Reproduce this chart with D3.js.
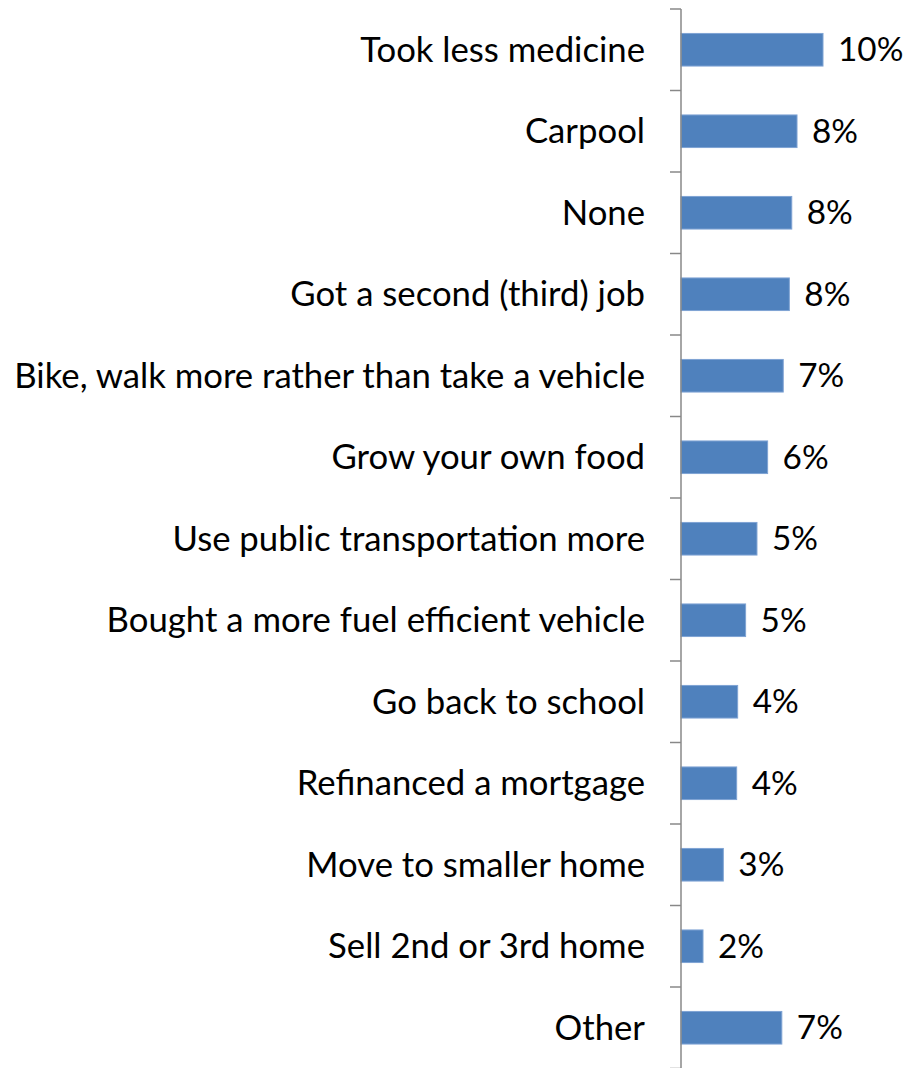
<!DOCTYPE html>
<html>
<head>
<meta charset="utf-8">
<script src="https://cdn.jsdelivr.net/npm/d3@7"></script>
<style>
	body { margin: 0; background: #fff; }
	text { font-family: Lato, "Open Sans", sans-serif; fill: #000; }
</style>
</head>
<body>
<div id="chart"></div>
<script>
// categories, top to bottom
var categories = [
	"Took less medicine",
	"Carpool",
	"None",
	"Got a second (third) job",
	"Bike, walk more rather than take a vehicle",
	"Grow your own food",
	"Use public transportation more",
	"Bought a more fuel efficient vehicle",
	"Go back to school",
	"Refinanced a mortgage",
	"Move to smaller home",
	"Sell 2nd or 3rd home",
	"Other"
];
// percent
var values = [10.0, 8.17, 7.8, 7.63, 7.2, 6.1, 5.35, 4.55, 3.99, 3.92, 2.98, 1.55, 7.1];

var width = 907;
var height = 1068;
var axisX = 681;
var plotTop = 9;

var svg = d3.select("#chart")
	.append("svg")
		.attr("width", width)
		.attr("height", height);

var y = d3.scaleBand()
	.domain(categories)
	.range([plotTop, plotTop + 81.5 * categories.length])
	.paddingInner(0.6)
	.paddingOuter(0.3);

var x = d3.scaleLinear()
	.domain([0, 10])
	.range([axisX, axisX + 142]);

// bars
svg.append("g")
	.selectAll("rect")
	.data(values)
	.enter().append("rect")
		.attr("x", x(0))
		.attr("y", function(d, i) { return y(categories[i]); })
		.attr("width", function(d) { return x(d) - x(0); })
		.attr("height", y.bandwidth())
		.attr("fill", "#4F81BD")
		.attr("stroke", "#7FA3D3")
		.attr("stroke-width", 1);

// category labels
var labels = svg.append("g")
	.selectAll("text")
	.data(categories)
	.enter().append("text")
		.attr("x", 645)
		.attr("y", function(d) { return y(d) + y.bandwidth() / 2; })
		.attr("dy", "0.35em")
		.attr("text-anchor", "end")
		.style("font-size", "30px")
		.text(function(d) { return d; });

// fit the longest label to the reference width
var longest = d3.max(labels.nodes(), function(n) { return n.getComputedTextLength(); });
var fs = 30 * 631 / longest;
labels.style("font-size", fs + "px");

// value labels
svg.append("g")
	.selectAll("text")
	.data(values)
	.enter().append("text")
		.attr("x", function(d) { return x(d) + 15; })
		.attr("y", function(d, i) { return y(categories[i]) + y.bandwidth() / 2; })
		.attr("dy", "0.35em")
		.style("font-size", (fs * 0.96) + "px")
		.text(function(d) { return Math.round(d) + "%"; });

// axis with ticks at category boundaries
var step = y.step();
var bounds = d3.range(categories.length + 1).map(function(i) { return plotTop + i * step; });

var axis = svg.append("g")
	.attr("stroke", "#888")
	.attr("stroke-width", 1.5);

axis.append("line")
	.attr("x1", axisX).attr("x2", axisX)
	.attr("y1", plotTop).attr("y2", height);

axis.selectAll(".tick")
	.data(bounds)
	.enter().append("line")
		.attr("class", "tick")
		.attr("x1", axisX - 11).attr("x2", axisX)
		.attr("y1", function(d) { return d; })
		.attr("y2", function(d) { return d; });
</script>
</body>
</html>
